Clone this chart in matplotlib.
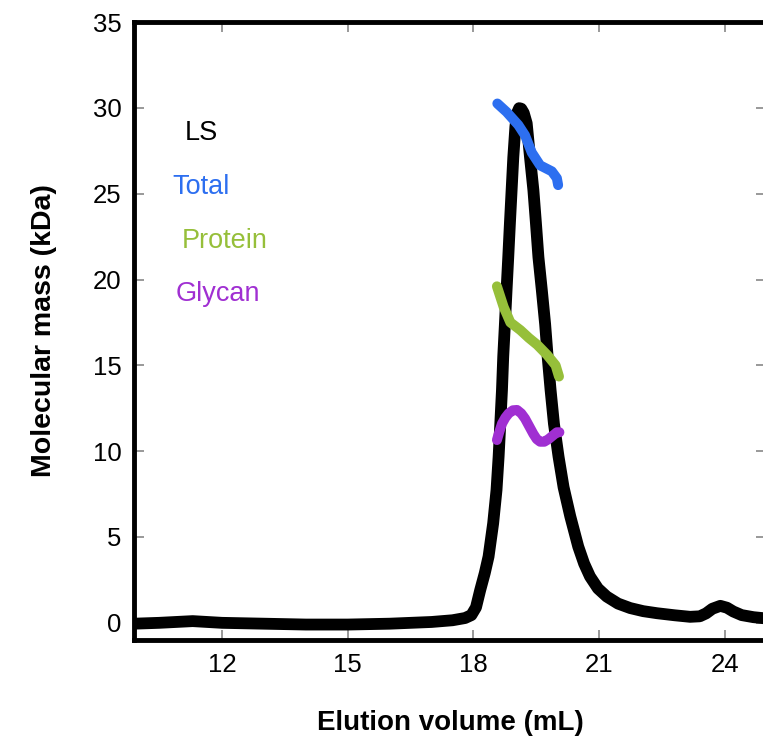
import numpy as np
import matplotlib
matplotlib.use('Agg')
import matplotlib.pyplot as plt

plt.rcParams['font.family'] = ['Liberation Sans', 'DejaVu Sans']

# light scattering trace (elution volume mL vs signal on kDa scale)
ls_x = [9.9, 10.5, 11.3, 12.0, 13.0, 14.0, 15.0, 16.0, 17.0, 17.5, 17.8, 17.95, 18.06, 18.16,
        18.27, 18.36, 18.47, 18.55, 18.6, 18.64, 18.68, 18.71, 18.75, 18.79, 18.83, 18.87, 18.91,
        18.95, 19.0, 19.04, 19.09, 19.14, 19.2, 19.27, 19.35, 19.43, 19.49, 19.55, 19.63, 19.71,
        19.77, 19.84, 19.92, 20.03, 20.15, 20.31, 20.5, 20.64, 20.78, 20.97, 21.18, 21.45, 21.74,
        22.05, 22.38, 22.8, 23.17, 23.4, 23.55, 23.7, 23.89, 24.05, 24.2, 24.4, 24.68, 25.0]
ls_y = [-0.05, 0.0, 0.1, 0.0, -0.05, -0.1, -0.1, -0.05, 0.05, 0.15, 0.28, 0.45, 0.9, 1.9,
        2.9, 3.86, 5.8, 7.74, 9.68, 11.6, 13.56, 15.5, 17.4, 19.4, 21.3, 23.3, 25.2,
        27.1, 28.9, 29.7, 29.98, 29.95, 29.7, 29.1, 27.1, 25.2, 23.3, 21.3, 19.4, 17.4,
        15.5, 13.56, 11.6, 9.68, 7.9, 6.2, 4.44, 3.45, 2.7, 2.0, 1.53, 1.12, 0.86,
        0.68, 0.56, 0.44, 0.35, 0.38, 0.55, 0.82, 0.99, 0.88, 0.66, 0.45, 0.33, 0.25]

# molar mass across the peak
total_x = [18.57, 18.79, 19.07, 19.23, 19.39, 19.59, 19.87, 19.99, 20.02]
total_y = [30.25, 29.76, 29.0, 28.4, 27.4, 26.65, 26.3, 25.9, 25.5]

protein_x = [18.56, 18.72, 18.88, 19.12, 19.32, 19.52, 19.76, 19.96, 20.04]
protein_y = [19.6, 18.4, 17.5, 17.05, 16.6, 16.2, 15.6, 15.0, 14.35]

glycan_x = [18.56, 18.62, 18.68, 18.76, 18.84, 18.94, 19.04, 19.14, 19.23, 19.33, 19.43,
            19.51, 19.59, 19.69, 19.79, 19.89, 19.99, 20.05]
glycan_y = [10.65, 11.15, 11.6, 11.95, 12.2, 12.38, 12.4, 12.2, 11.9, 11.45, 11.0,
            10.7, 10.55, 10.55, 10.7, 10.9, 11.1, 11.1]

c_blue = '#2d6ff0'
c_green = '#96bf3a'
c_purple = '#a02fd2'

fig = plt.figure(figsize=(7.63, 7.45), dpi=100)
ax = fig.add_axes([134/763, 105/745, 632/763, 618/745])

round_kw = dict(solid_capstyle='round', solid_joinstyle='round')
ax.plot(ls_x, ls_y, color='black', lw=8.5, **round_kw)
ax.plot(total_x, total_y, color=c_blue, lw=7.2, **round_kw)
ax.plot(protein_x, protein_y, color=c_green, lw=7.2, **round_kw)
ax.plot(glycan_x, glycan_y, color=c_purple, lw=7.2, **round_kw)

ax.set_xlim(9.9, 24.98)
ax.set_ylim(-1, 35)
ax.set_xticks([12, 15, 18, 21, 24])
ax.set_yticks(np.arange(0, 36, 5))

ax.tick_params(direction='in', length=7, width=1.2, color='#888888', labelsize=18.5,
               top=True, right=True, pad=9)
for s in ax.spines.values():
    s.set_linewidth(3.5)

ax.set_xlabel('Elution volume (mL)', fontsize=20, fontweight='bold', labelpad=24)
ax.set_ylabel('Molecular mass (kDa)', fontsize=20.5, fontweight='bold', labelpad=26)

# series names, placed in pixel coordinates of the figure
for name, col, px, py in [('LS', 'black', 201, 140),
                          ('Total', c_blue, 201, 194),
                          ('Protein', c_green, 225, 248),
                          ('Glycan', c_purple, 218, 301)]:
    fig.text(px/763, 1 - py/745, name, fontsize=19.5, color=col,
             ha='center', va='baseline')

fig.savefig('out.png', dpi=100)
